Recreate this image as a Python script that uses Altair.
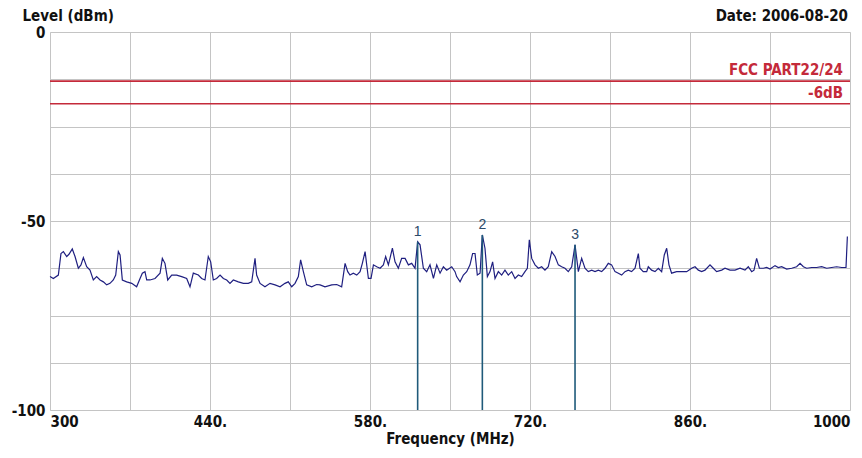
import altair as alt
import pandas as pd

# Spectrum trace (MHz, dBm)
freq = [300.0, 302.9, 307.3, 309.6, 311.7, 314.6, 316.6, 319.5, 321.9, 324.8, 327.1, 329.2,
        332.1, 335.0, 337.9, 340.8, 343.8, 346.7, 349.6, 352.5, 355.4, 357.5, 359.8, 361.3,
        363.3, 367.1, 371.5, 375.8, 378.8, 380.8, 383.1, 384.6, 387.5, 391.9, 396.3, 398.3,
        400.6, 403.0, 406.5, 410.8, 415.2, 419.6, 422.5, 425.4, 429.8, 432.7, 435.6, 438.5,
        440.6, 442.9, 445.8, 448.8, 451.7, 454.6, 457.5, 460.4, 464.8, 469.2, 473.5, 476.5,
        479.4, 480.8, 483.8, 488.1, 492.5, 496.9, 501.3, 505.6, 508.5, 511.5, 514.4, 517.3,
        519.3, 521.7, 524.6, 529.0, 533.3, 536.3, 540.6, 546.5, 550.9, 555.2, 558.2, 560.5,
        562.5, 565.4, 568.4, 571.3, 573.3, 575.7, 578.6, 580.9, 583.0, 585.9, 588.8, 591.7,
        593.7, 596.1, 599.6, 601.9, 604.8, 607.7, 610.7, 613.6, 616.5, 619.4, 621.7, 623.8,
        626.7, 629.6, 632.5, 635.5, 638.4, 641.3, 644.2, 647.1, 651.5, 654.4, 655.8, 658.8,
        661.7, 664.6, 667.5, 669.8, 671.9, 673.9, 676.3, 678.3, 680.6, 682.7, 685.0, 687.3,
        689.4, 692.3, 695.2, 698.1, 701.0, 704.0, 706.9, 709.8, 712.7, 715.6, 717.7, 719.4,
        721.5, 724.4, 727.3, 730.2, 733.1, 736.0, 739.0, 741.9, 744.8, 747.7, 750.6, 753.5,
        756.5, 759.4, 762.3, 765.2, 768.1, 771.0, 774.0, 776.9, 779.8, 782.7, 785.6, 788.5,
        791.4, 794.4, 797.3, 800.2, 803.1, 806.0, 808.9, 811.9, 814.8, 816.2, 819.1, 822.1,
        823.5, 826.4, 829.4, 832.3, 835.2, 837.5, 839.6, 841.6, 843.9, 848.3, 852.7, 857.1,
        861.4, 864.4, 867.3, 870.2, 873.1, 877.5, 880.4, 883.3, 887.7, 890.6, 895.0, 899.4,
        903.8, 908.1, 911.0, 914.0, 916.0, 918.3, 920.7, 924.2, 927.1, 930.0, 934.4, 937.3,
        940.2, 944.6, 949.0, 953.3, 956.3, 959.2, 962.1, 966.5, 970.8, 975.2, 979.6, 984.0,
        988.3, 992.7, 996.5, 997.7]
level = [-64.7, -65.2, -64.3, -58.6, -58.1, -59.4, -58.8, -57.4, -59.4, -62.5, -61.6, -59.7,
         -62.1, -63.0, -65.6, -64.7, -65.6, -66.1, -66.9, -66.5, -65.6, -64.3, -58.1, -59.0,
         -65.6, -66.1, -66.5, -67.4, -65.2, -63.8, -63.4, -65.6, -65.6, -65.2, -63.8, -59.9,
         -61.2, -65.6, -64.3, -64.3, -64.7, -65.2, -67.4, -63.8, -64.3, -65.2, -65.6, -59.4,
         -60.8, -65.6, -65.2, -64.3, -65.2, -65.6, -66.5, -65.6, -66.1, -66.5, -66.5, -66.1,
         -59.9, -64.3, -66.5, -67.4, -66.5, -66.9, -67.4, -66.5, -66.1, -67.4, -66.5, -64.7,
         -60.3, -63.4, -66.9, -67.4, -66.8, -66.9, -67.4, -66.9, -66.8, -67.4, -61.2, -63.4,
         -64.3, -63.8, -64.3, -63.4, -61.2, -58.1, -65.2, -65.2, -61.6, -62.1, -62.5, -61.6,
         -59.4, -61.6, -57.2, -60.8, -62.5, -59.9, -59.9, -61.6, -61.2, -62.5, -55.5, -56.3,
         -62.5, -63.4, -61.6, -65.2, -61.6, -63.8, -62.1, -63.0, -62.1, -63.4, -64.7, -66.1,
         -64.3, -63.4, -61.6, -58.6, -58.6, -64.3, -63.8, -53.7, -57.2, -64.7, -63.4, -60.8,
         -65.2, -63.4, -64.3, -63.0, -64.3, -63.4, -65.2, -64.3, -64.7, -63.4, -62.5, -55.0,
         -59.9, -61.6, -62.5, -62.1, -63.0, -62.1, -58.1, -59.4, -61.6, -62.1, -62.5, -63.4,
         -62.1, -56.3, -63.4, -59.9, -62.5, -63.4, -63.0, -63.4, -63.0, -63.4, -62.5, -61.2,
         -61.6, -63.4, -63.8, -64.3, -63.4, -63.0, -63.4, -62.5, -58.6, -62.5, -63.4, -63.4,
         -62.1, -63.0, -63.4, -62.5, -63.4, -59.0, -57.2, -61.6, -63.8, -63.4, -63.4, -63.4,
         -62.5, -62.1, -63.0, -63.4, -63.0, -61.6, -62.5, -63.4, -63.0, -62.5, -63.0, -63.0,
         -62.5, -63.0, -62.1, -63.4, -63.0, -59.9, -62.5, -62.5, -62.3, -62.7, -61.8, -62.3,
         -62.1, -62.7, -62.5, -62.1, -61.2, -62.1, -62.5, -62.3, -62.3, -62.1, -62.5, -62.3,
         -62.1, -62.3, -62.3, -54.1]

# Markers
marker_label = ["1", "2", "3"]
marker_freq = [621.7, 678.3, 759.4]
marker_level = [-55.5, -53.7, -56.3]

# Limit lines
limit_label = ["FCC PART22/24", "-6dB"]
limit_level = [-13, -19]

date_text = ["Date: 2006-08-20"]

x_grid = [300, 370, 440, 510, 580, 650, 720, 790, 860, 930, 1000]
y_grid = [0, -12.5, -25, -37.5, -50, -62.5, -75, -87.5, -100]

FONT = "Liberation Sans Narrow, DejaVu Sans Condensed, Arial Narrow, sans-serif"

trace = pd.DataFrame({"f": freq, "lv": level})
markers = pd.DataFrame({"label": marker_label, "f": marker_freq, "lv": marker_level,
                        "bottom": [-100] * 3})
limits = pd.DataFrame({"label": limit_label, "lv": limit_level})
dates = pd.DataFrame({"label": date_text})

xs = alt.Scale(domain=[300, 1000], nice=False, zero=False)
ys = alt.Scale(domain=[-100, 0], nice=False)

x_axis = alt.Axis(values=x_grid, ticks=False, grid=True, gridColor="#c4c4c4",
                  labelExpr="datum.value == 300 || datum.value == 1000 ? datum.value : ((datum.value - 300) % 140 == 0 ? datum.value + '.' : '')",
                  labelFlush=True, labelFont=FONT, labelFontSize=15, labelFontWeight="bold",
                  labelColor="#111", labelPadding=4, domain=False,
                  title="Frequency (MHz)", titleFont=FONT, titleFontSize=15,
                  titleFontWeight="bold", titleColor="#111", titlePadding=2)
y_axis = alt.Axis(values=y_grid, ticks=False, grid=True, gridColor="#c4c4c4",
                  labelExpr="datum.value % 50 == 0 ? datum.value : ''",
                  labelFont=FONT, labelFontSize=15, labelFontWeight="bold",
                  labelColor="#111", labelPadding=5, domain=False,
                  title="Level (dBm)", titleAngle=0, titleAlign="left",
                  titleBaseline="bottom", titleX=-28, titleY=-9,
                  titleFont=FONT, titleFontSize=15, titleFontWeight="bold", titleColor="#111")

base_line = alt.Chart(trace).mark_line(color="#1f1f80", strokeWidth=1.2).encode(
    x=alt.X("f:Q", scale=xs, axis=x_axis),
    y=alt.Y("lv:Q", scale=ys, axis=y_axis),
)

limit_rules = alt.Chart(limits).mark_rule(color="#c42a3a", strokeWidth=1.6).encode(
    y=alt.Y("lv:Q", scale=ys)
)
limit_text = alt.Chart(limits).mark_text(
    align="right", baseline="bottom", dy=-3, font=FONT, fontSize=15, fontWeight="bold",
    color="#c42a3a"
).encode(x=alt.value(793), y=alt.Y("lv:Q", scale=ys), text="label:N")

marker_rules = alt.Chart(markers).mark_rule(color="#1f5a7a", strokeWidth=1.6).encode(
    x=alt.X("f:Q", scale=xs), y=alt.Y("lv:Q", scale=ys), y2="bottom:Q"
)
marker_text = alt.Chart(markers).mark_text(
    baseline="bottom", dy=-3, font="Liberation Sans, Arial, sans-serif", fontSize=14,
    color="#2c4a6a"
).encode(x=alt.X("f:Q", scale=xs), y=alt.Y("lv:Q", scale=ys), text="label:N")

date_mark = alt.Chart(dates).mark_text(
    align="right", baseline="bottom", font=FONT, fontSize=15, fontWeight="bold",
    color="#111"
).encode(x=alt.value(798), y=alt.value(-8), text="label:N")

chart = alt.layer(
    base_line, limit_rules, limit_text, marker_rules, marker_text, date_mark
).properties(
    width=800, height=378,
    padding={"left": 42, "top": 24, "right": 4, "bottom": 40},
    autosize=alt.AutoSizeParams(type="none"),
).configure_view(
    stroke="#111", strokeWidth=2
).configure(background="white")

chart.save("out.html", embed_options={"renderer": "svg", "actions": False})
